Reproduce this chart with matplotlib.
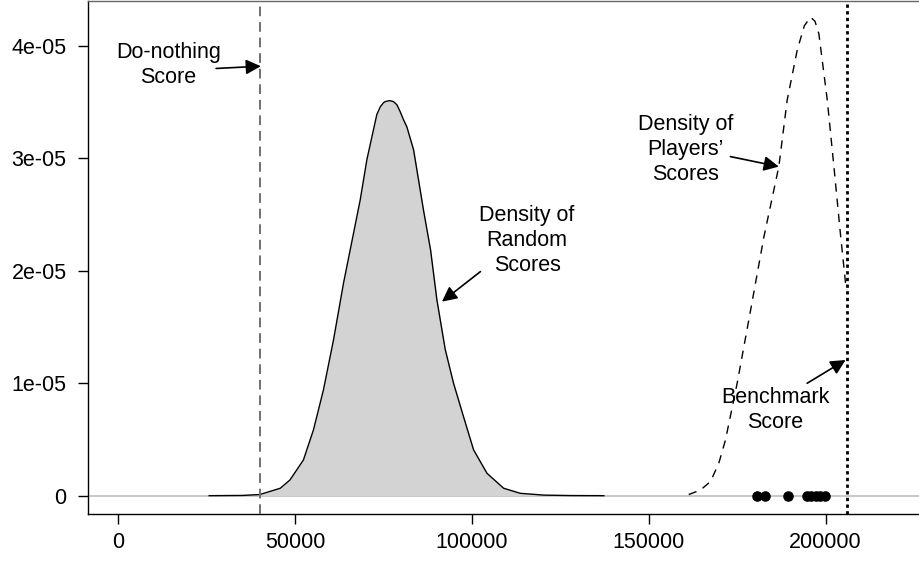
import matplotlib
matplotlib.use("Agg")
import matplotlib.pyplot as plt

plt.rcParams['font.family'] = ['Liberation Sans', 'DejaVu Sans']

# density of random scores
rand_x = [25700, 35000, 40000, 45800, 48550, 52350, 55180, 58000, 60850, 63680,
          65570, 68400, 70300, 73100, 74100, 75000, 75480, 76700, 77830, 78800,
          79700, 80700, 81600, 83500, 86300, 88300, 90100, 92450, 94800, 97640,
          100470, 104260, 108960, 113680, 120300, 128000, 137300]
rand_y = [0, 0.002e-5, 0.01e-5, 0.066e-5, 0.14e-5, 0.318e-5, 0.585e-5, 0.94e-5,
          1.385e-5, 1.89e-5, 2.186e-5, 2.63e-5, 2.99e-5, 3.39e-5, 3.46e-5,
          3.495e-5, 3.505e-5, 3.514e-5, 3.505e-5, 3.476e-5, 3.416e-5, 3.34e-5,
          3.28e-5, 3.076e-5, 2.54e-5, 2.186e-5, 1.74e-5, 1.30e-5, 1.0e-5,
          0.70e-5, 0.407e-5, 0.199e-5, 0.066e-5, 0.021e-5, 0.005e-5, 0.001e-5, 0]

# density of players' scores
play_x = [161300, 164600, 167450, 169800, 171700, 175000, 178800, 182550,
          186800, 189150, 192000, 194000, 195750, 197000, 198100, 200480,
          202350, 204200, 205650, 206000]
play_y = [0.01e-5, 0.05e-5, 0.125e-5, 0.288e-5, 0.496e-5, 1.0e-5, 1.65e-5,
          2.30e-5, 2.93e-5, 3.52e-5, 3.965e-5, 4.18e-5, 4.256e-5, 4.22e-5,
          4.11e-5, 3.52e-5, 2.93e-5, 2.33e-5, 1.89e-5, 1.83e-5]

player_scores = [180650, 183000, 189450, 194800, 196000, 197200, 198400, 199700]

do_nothing = 40000
benchmark = 206000

xticks = [0, 50000, 100000, 150000, 200000]
yticks = [0, 1e-05, 2e-05, 3e-05, 4e-05]
ytick_labels = ["0", "1e-05", "2e-05", "3e-05", "4e-05"]

fig = plt.figure(figsize=(9.2, 5.61), dpi=100)
ax = fig.add_axes([87.5 / 920, 47 / 561, 834 / 920, 513 / 561])

ax.axhline(0, color="#bebebe", lw=1.2, zorder=1)
ax.fill_between(rand_x, rand_y, 0, color="#d3d3d3", lw=0, zorder=2)
ax.plot(rand_x, rand_y, color="black", lw=1, zorder=3)
ax.plot(play_x, play_y, color="black", lw=1, dashes=(6, 5), zorder=3)
ax.plot(player_scores, [0] * len(player_scores), "o", color="black",
        ms=6.6, zorder=4)

ax.axvline(do_nothing, color="#707070", lw=1.4, dashes=(5, 3), zorder=3)
ax.axvline(benchmark, color="black", lw=2, dashes=(1.2, 1.2), zorder=3)

ax.set_xlim(-8716, 227130)
ax.set_ylim(-1.63e-6, 4.40e-5)
ax.set_xticks(xticks)
ax.set_yticks(yticks)
ax.set_yticklabels(ytick_labels)
ax.tick_params(direction="out", length=7, width=1, labelsize=15.5, pad=6)
ax.tick_params(axis="y", pad=8)
ax.spines["right"].set_visible(False)
for s in ["left", "bottom", "top"]:
    ax.spines[s].set_linewidth(1)
ax.spines["top"].set_color("#666666")

arrow = dict(arrowstyle="-|>,head_length=0.9,head_width=0.45", color="black", lw=1.2,
             shrinkA=0, shrinkB=0)
fs = 15.5
ls = 1.25

# labels and their arrows
ax.text(14200, 3.83e-5, "Do-nothing\nScore", ha="center", va="center",
        fontsize=fs, linespacing=ls)
ax.annotate("", xy=(40300, 3.82e-5), xytext=(27650, 3.80e-5), arrowprops=arrow)

ax.text(115600, 2.27e-5, "Density of\nRandom\nScores", ha="center", va="center",
        fontsize=fs, linespacing=ls)
ax.annotate("", xy=(91520, 1.726e-5), xytext=(102400, 1.993e-5), arrowprops=arrow)

ax.text(160400, 3.076e-5, "Density of\nPlayers\u2019\nScores", ha="center",
        va="center", fontsize=fs, linespacing=ls)
ax.annotate("", xy=(186780, 2.927e-5), xytext=(173100, 3.016e-5), arrowprops=arrow)

ax.text(185800, 0.762e-5, "Benchmark\nScore", ha="center", va="center",
        fontsize=fs, linespacing=ls)
ax.annotate("", xy=(205660, 1.207e-5), xytext=(194800, 1.0e-5), arrowprops=arrow)

fig.savefig("out.png", dpi=100)
